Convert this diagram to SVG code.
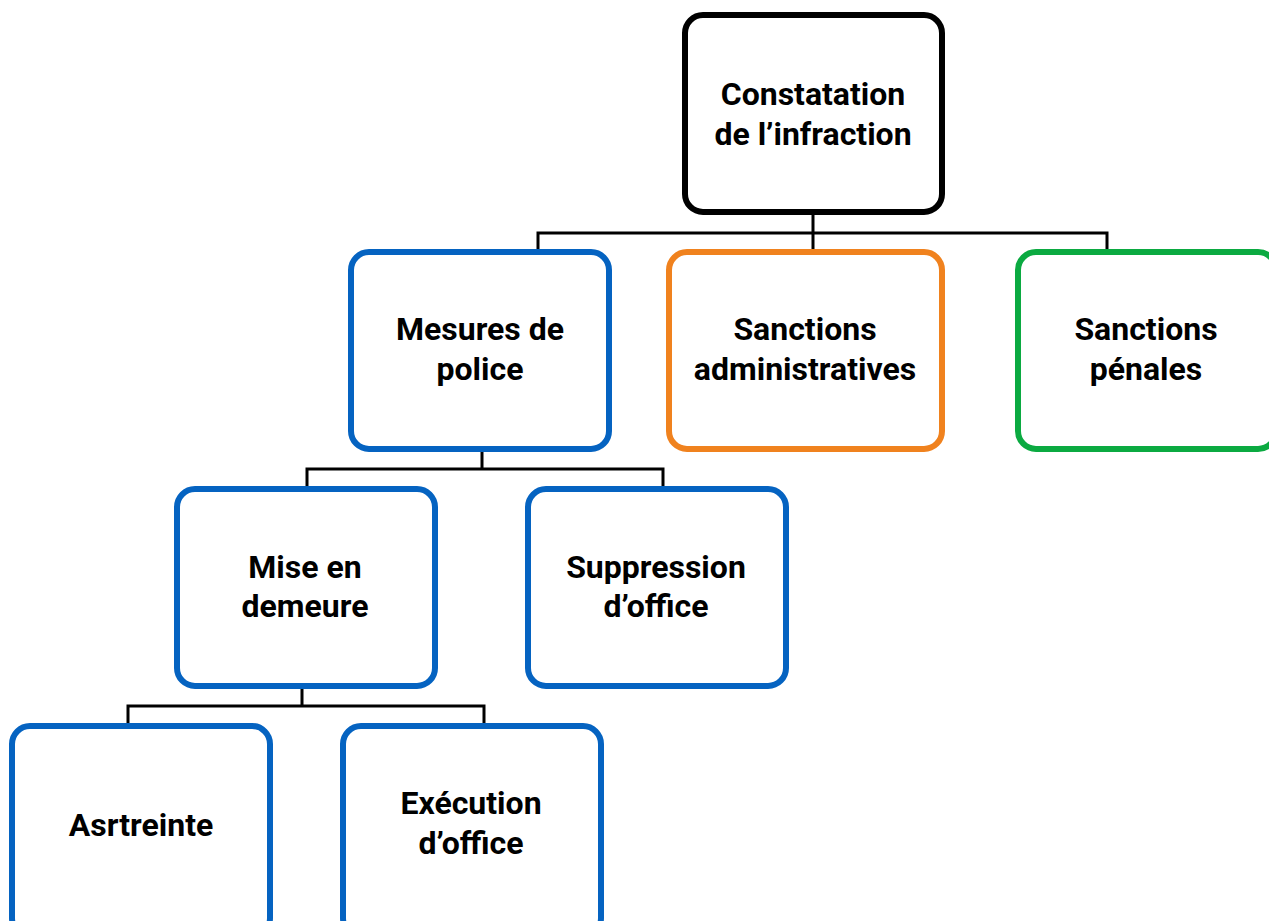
<svg xmlns="http://www.w3.org/2000/svg" width="1269" height="921" viewBox="0 0 1269 921">
<style>
.box{fill:#fff;stroke-width:6}
.blue{stroke:#0563C1}
.orange{stroke:#F0821E}
.green{stroke:#0BAA41}
.black{stroke:#000}
.lbl{font-family:Roboto,"Liberation Sans",sans-serif;font-weight:bold;font-size:32px;fill:#000;text-anchor:middle}
.conn{fill:none;stroke:#000;stroke-width:3}
</style>
<rect width="1269" height="921" fill="#fff"/>
<g id="connectors">
<path class="conn" d="M813 212V233M538 250V233H1107V250M813 233V250"/>
<path class="conn" d="M482 449V469M307 487V469H663V487"/>
<path class="conn" d="M302 687V706M128 724V706H484V724"/>
</g>
<g id="n-constatation">
<rect class="box black" x="685" y="15" width="257" height="197" rx="18"/>
<text class="lbl" x="813" y="105">Constatation</text>
<text class="lbl" x="813" y="145">de l’infraction</text>
</g>
<g id="n-mesures">
<rect class="box blue" x="351" y="252" width="258" height="197" rx="18"/>
<text class="lbl" x="480" y="340">Mesures de</text>
<text class="lbl" x="480" y="380">police</text>
</g>
<g id="n-admin">
<rect class="box orange" x="669" y="252" width="273" height="197" rx="18"/>
<text class="lbl" x="805" y="340">Sanctions</text>
<text class="lbl" x="805" y="380">administratives</text>
</g>
<g id="n-penales">
<rect class="box green" x="1018" y="252" width="258" height="197" rx="18"/>
<text class="lbl" x="1146" y="340">Sanctions</text>
<text class="lbl" x="1146" y="380">pénales</text>
</g>
<g id="n-mise">
<rect class="box blue" x="177" y="489" width="258" height="197" rx="18"/>
<text class="lbl" x="305" y="578">Mise en</text>
<text class="lbl" x="305" y="617">demeure</text>
</g>
<g id="n-suppression">
<rect class="box blue" x="528" y="489" width="258" height="197" rx="18"/>
<text class="lbl" x="656" y="578">Suppression</text>
<text class="lbl" x="656" y="617">d’office</text>
</g>
<g id="n-astreinte">
<rect class="box blue" x="12" y="726" width="258" height="210" rx="18"/>
<text class="lbl" x="141" y="836">Asrtreinte</text>
</g>
<g id="n-execution">
<rect class="box blue" x="343" y="726" width="258" height="210" rx="18"/>
<text class="lbl" x="471" y="814">Exécution</text>
<text class="lbl" x="471" y="854">d’office</text>
</g>
</svg>
